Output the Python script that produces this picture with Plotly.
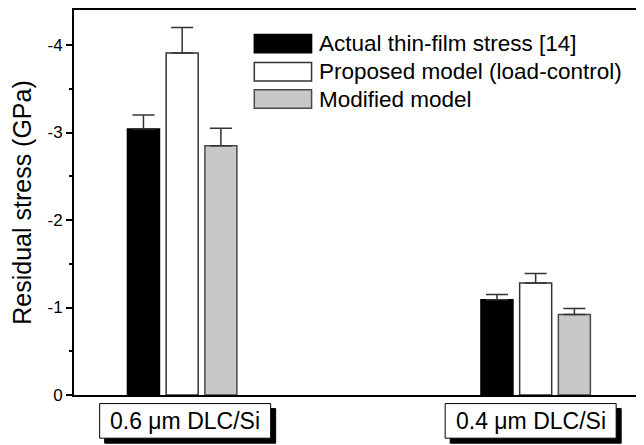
import plotly.graph_objects as go

# ---- data ----
samples = ["0.6 μm DLC/Si", "0.4 μm DLC/Si"]
sample_pos = [0, 1]
series_names = ["Actual thin-film stress [14]", "Proposed model (load-control)", "Modified model"]
actual = [-3.04, -1.09]
actual_err = [0.16, 0.06]
proposed = [-3.91, -1.28]
proposed_err = [0.29, 0.11]
modified = [-2.85, -0.92]
modified_err = [0.20, 0.07]
y_ticks = [-4, -3, -2, -1, 0]
y_ticklabels = ["-4", "-3", "-2", "-1", "0"]

FONT = "Liberation Sans, Arial, Helvetica, sans-serif"
fills = ["#000000", "#ffffff", "#c8c8c8"]
edges = ["#000000", "#333333", "#4a4a4a"]

fig = go.Figure()
for name, vals, errs, fc, ec in zip(series_names,
                                    [actual, proposed, modified],
                                    [actual_err, proposed_err, modified_err],
                                    fills, edges):
    fig.add_trace(go.Bar(
        x=sample_pos, y=vals, name=name, showlegend=False,
        marker=dict(color=fc, line=dict(color=ec, width=1.5)),
        error_y=dict(type="data", symmetric=False, array=[0] * len(errs),
                     arrayminus=errs, color="#333333", thickness=1.5, width=11),
    ))

annotations = []
shapes = []

# category label boxes with drop shadow (pixel-sized shapes anchored at category)
label_y = -0.0672
for xs, lab in zip(sample_pos, samples):
    dx = 3 if xs == 0 else -5
    for shadow in (True, False):
        off = 5 if shadow else 0
        shapes.append(dict(
            type="rect", xref="x", yref="paper", xsizemode="pixel", ysizemode="pixel",
            xanchor=xs, yanchor=label_y,
            x0=-85.5 + dx + off, x1=85.5 + dx + off,
            y0=-17.3 - off, y1=17.3 - off,
            fillcolor="black" if shadow else "white",
            line=dict(color="black", width=1), layer="above"))
    annotations.append(dict(
        x=xs, y=label_y, xref="x", yref="paper", text=lab, showarrow=False,
        xanchor="center", yanchor="middle", xshift=dx,
        font=dict(family=FONT, size=23, color="black")))

# manual legend with wide swatches
row_y = [0.9127, 0.8398, 0.7687]
for name, fc, ec, yy in zip(series_names, fills, edges, row_y):
    shapes.append(dict(type="rect", xref="paper", yref="paper",
                       x0=0.318, x1=0.419, y0=yy - 0.0239, y1=yy + 0.0239,
                       fillcolor=fc, line=dict(color=ec, width=1.5)))
    annotations.append(dict(x=0.428, y=yy, xref="paper", yref="paper", text=name,
                            showarrow=False, xanchor="left", yanchor="middle",
                            font=dict(family=FONT, size=22.5, color="black")))

fig.update_layout(
    width=636, height=437,
    margin=dict(l=66, r=3, t=0, b=50),
    paper_bgcolor="white", plot_bgcolor="white",
    barmode="group", bargap=0.6715, bargroupgap=0.173,
    font=dict(family=FONT, color="black"),
    annotations=annotations, shapes=shapes,
    xaxis=dict(range=[-0.306, 1.298], showticklabels=False, ticks="",
               showgrid=False, zeroline=False, showline=True, linecolor="black",
               linewidth=2, mirror=True),
    yaxis=dict(range=[0, -4.4], tickvals=y_ticks, ticktext=y_ticklabels,
               ticks="outside", ticklen=6, tickwidth=1.5, tickcolor="black",
               minor=dict(dtick=0.5, ticks="outside", ticklen=3, tickwidth=1.5,
                          tickcolor="black", showgrid=False),
               tickfont=dict(family=FONT, size=17, color="black"),
               showgrid=False, zeroline=False, showline=True, linecolor="black",
               linewidth=2, mirror=True,
               title=dict(text="Residual stress (GPa)", standoff=10,
                          font=dict(family=FONT, size=25, color="black"))),
)

fig.write_html("out.html")
